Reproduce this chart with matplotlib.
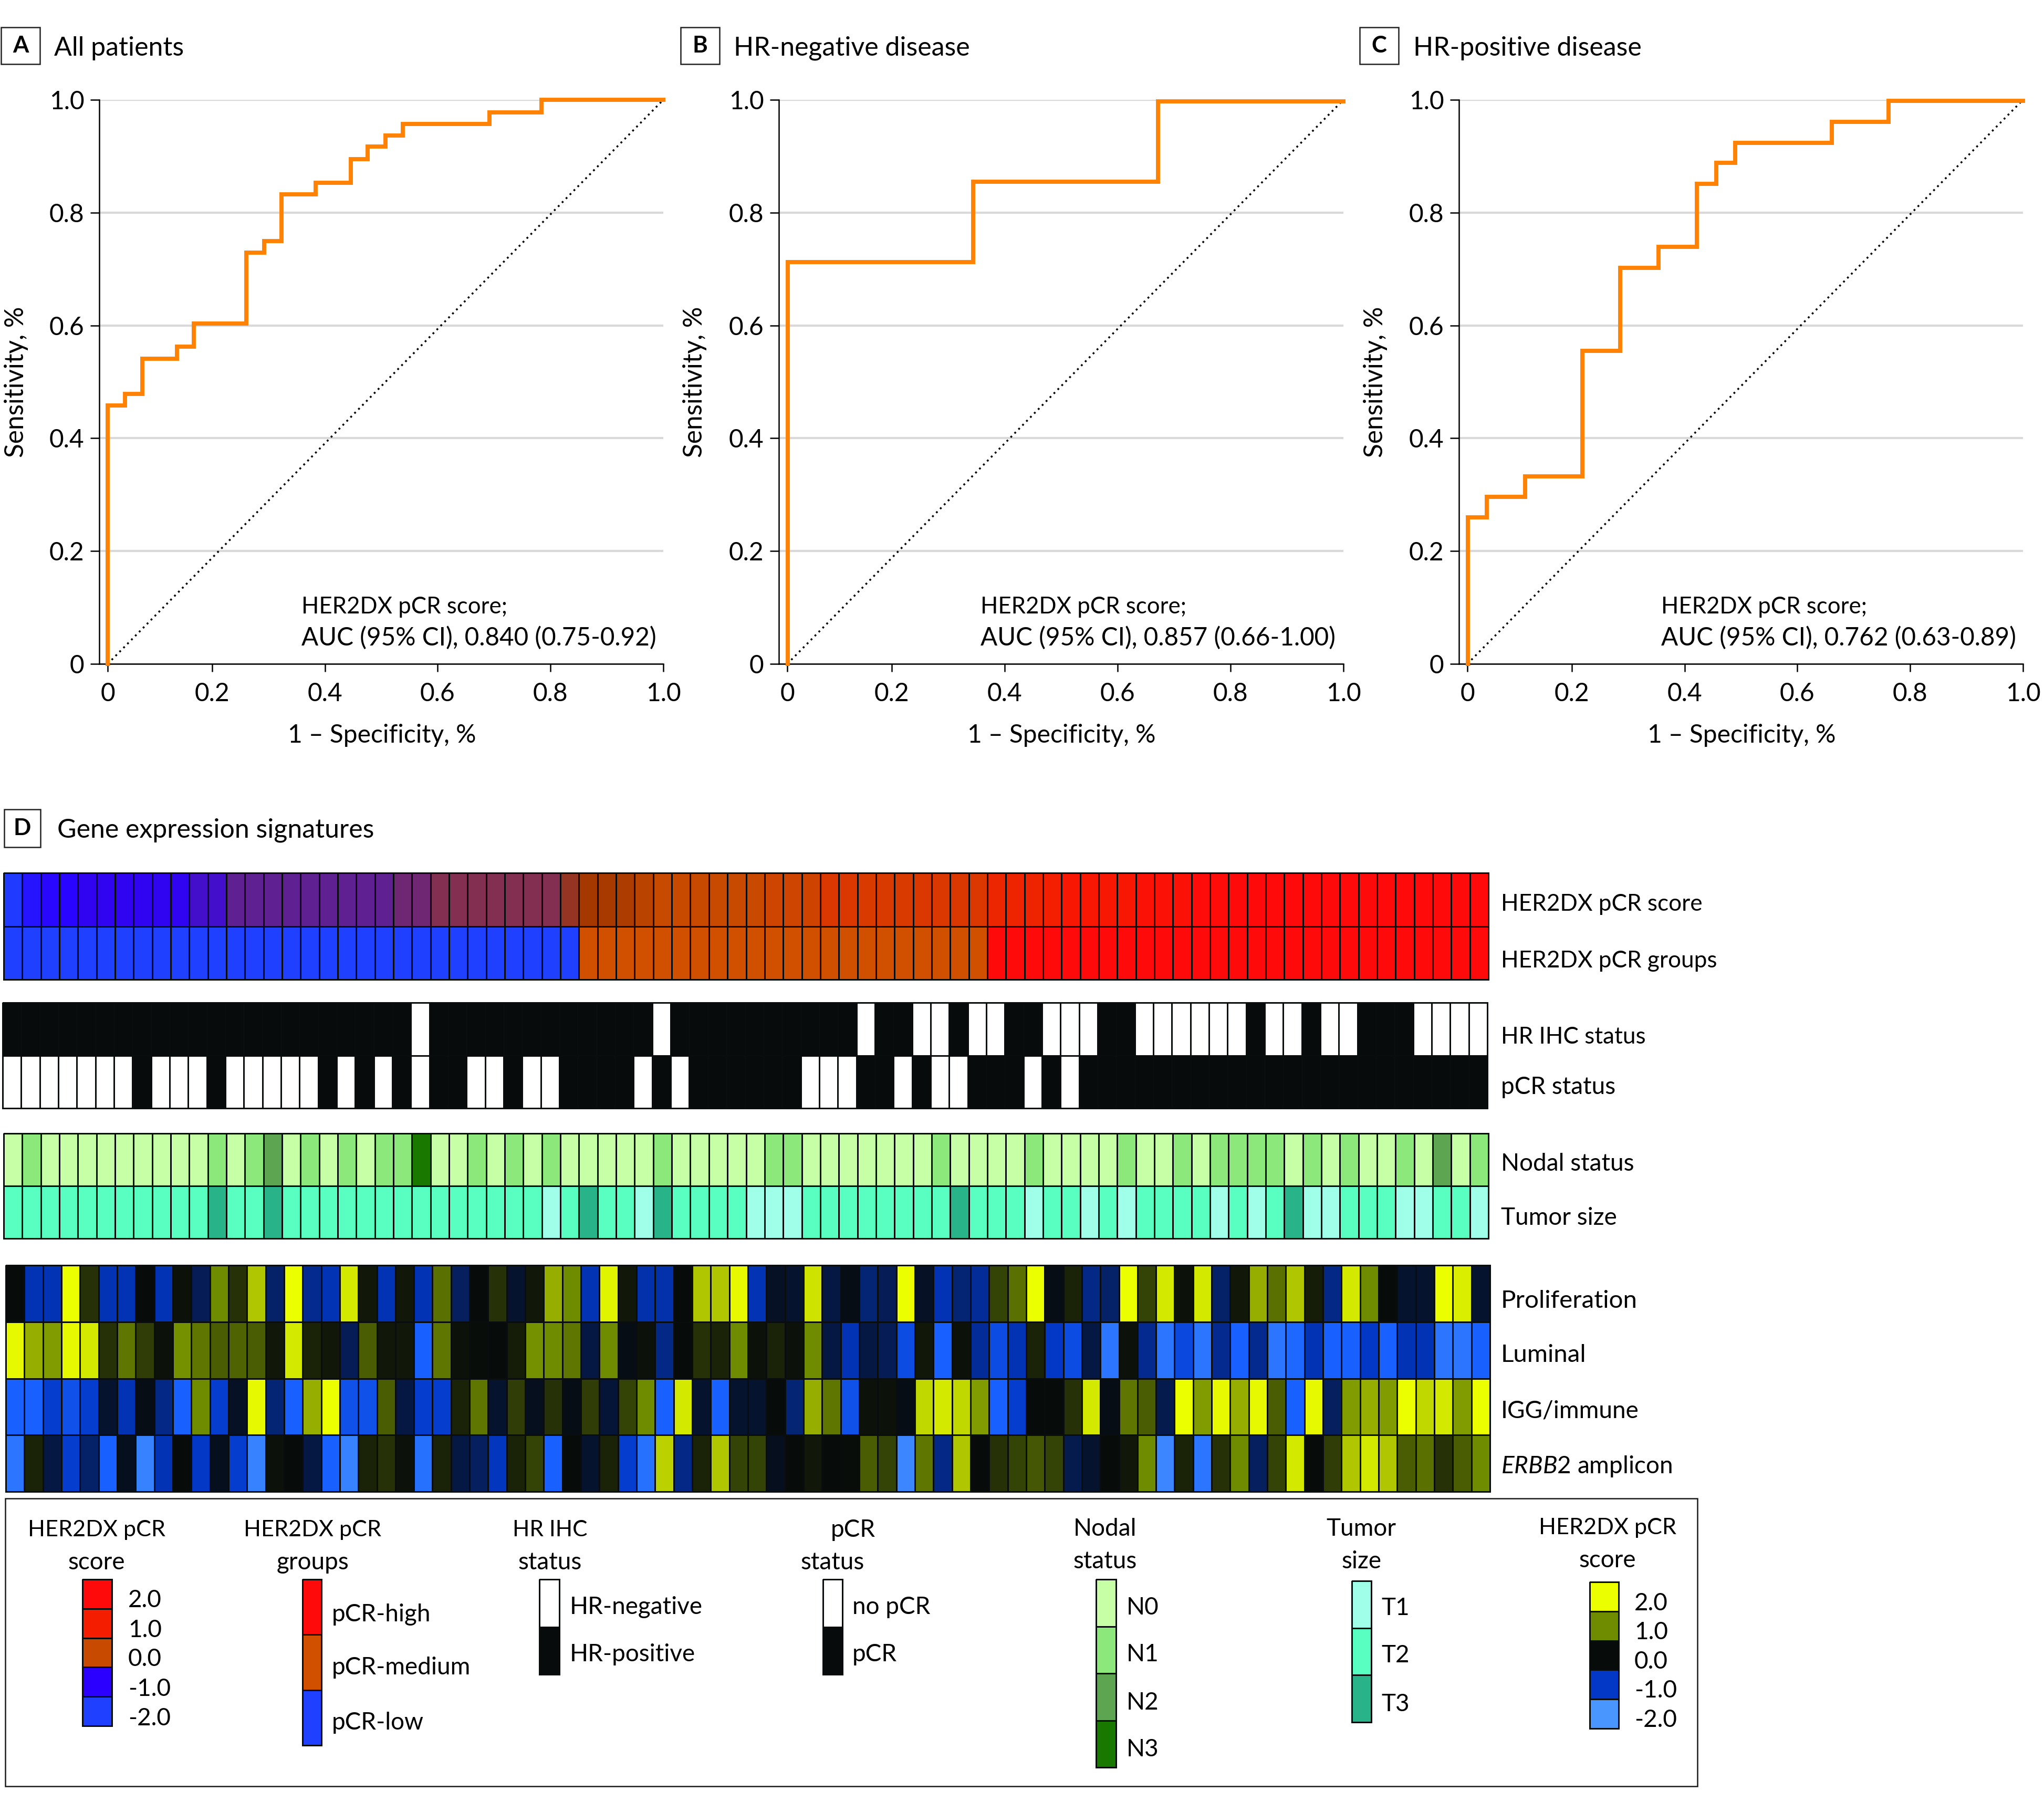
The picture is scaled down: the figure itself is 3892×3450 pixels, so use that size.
#!/usr/bin/env python
import matplotlib
matplotlib.use("AGG")
import matplotlib.pyplot as plt
from matplotlib.colors import LinearSegmentedColormap, ListedColormap
from matplotlib.patches import Rectangle
import numpy as np

W, H = 3892, 3450
FONT = "Lato"
plt.rcParams['font.family'] = [FONT, 'DejaVu Sans']
plt.rcParams['mathtext.fontset'] = 'custom'
plt.rcParams['mathtext.it'] = FONT + ':italic'
plt.rcParams['mathtext.rm'] = FONT

# ROC curves, corner points
roc_a_x = [0.0147, 0.0147, 0.046, 0.046, 0.076, 0.076, 0.138, 0.138, 0.168, 0.168, 0.261, 0.261, 0.292, 0.292, 0.323, 0.323,
           0.384, 0.384, 0.446, 0.446, 0.476, 0.476, 0.507, 0.507, 0.538, 0.538, 0.692, 0.692, 0.784, 0.784, 1.0]
roc_a_y = [0.0, 0.458, 0.458, 0.479, 0.479, 0.541, 0.541, 0.562, 0.562, 0.603, 0.603, 0.729, 0.729, 0.75, 0.75, 0.832,
           0.832, 0.853, 0.853, 0.895, 0.895, 0.917, 0.917, 0.937, 0.937, 0.957, 0.957, 0.978, 0.978, 1.0, 1.0]
roc_b_x = [0.0154, 0.0154, 0.344, 0.344, 0.672, 0.672, 1.0]
roc_b_y = [0.0, 0.712, 0.712, 0.855, 0.855, 0.997, 0.997]
roc_c_x = [0.0154, 0.0154, 0.049, 0.049, 0.117, 0.117, 0.219, 0.219, 0.286, 0.286, 0.354, 0.354, 0.422, 0.422, 0.456, 0.456,
           0.49, 0.49, 0.661, 0.661, 0.762, 0.762, 1.0]
roc_c_y = [0.0, 0.26, 0.26, 0.296, 0.296, 0.332, 0.332, 0.555, 0.555, 0.702, 0.702, 0.739, 0.739, 0.851, 0.851, 0.888,
           0.888, 0.924, 0.924, 0.961, 0.961, 0.998, 0.998]
x_zero = 0.015
x_ticks = [x_zero, 0.2, 0.4, 0.6, 0.8, 1.0]
x_labels = ["0", "0.2", "0.4", "0.6", "0.8", "1.0"]
y_ticks = [0, 0.2, 0.4, 0.6, 0.8, 1.0]
y_labels = ["0", "0.2", "0.4", "0.6", "0.8", "1.0"]
panel_titles = ["All patients", "HR-negative disease", "HR-positive disease"]
auc_texts = ["AUC (95% CI), 0.840 (0.75-0.92)", "AUC (95% CI), 0.857 (0.66-1.00)", "AUC (95% CI), 0.762 (0.63-0.89)"]

# heat map rows, 80 patients
score = [-1.9, -1.3, -1.1, -1.05, -0.95, -0.95, -0.95, -0.95, -0.95, -0.95,
         -0.8, -0.8, -0.6, -0.6, -0.6, -0.6, -0.6, -0.6, -0.6, -0.6,
         -0.6, -0.5, -0.5, -0.36, -0.36, -0.36, -0.36, -0.36, -0.36, -0.36,
         -0.25, -0.15, -0.13, -0.12, -0.05, 0.0, 0.0, 0.0, 0.0, 0.0,
         0.03, 0.1, 0.1, 0.15, 0.4, 0.4, 0.35, 0.35, 0.35, 0.4,
         0.4, 0.4, 0.4, 0.8, 0.85, 0.85, 0.95, 1.3, 1.3, 1.3,
         1.3, 1.6, 1.6, 1.6, 1.9, 1.9, 2.0, 2.0, 2.0, 2.0,
         2.0, 2.0, 2.0, 2.0, 2.0, 2.0, 2.0, 2.0, 2.0, 2.0]
groups = [0, 0, 0, 0, 0, 0, 0, 0, 0, 0,
          0, 0, 0, 0, 0, 0, 0, 0, 0, 0,
          0, 0, 0, 0, 0, 0, 0, 0, 0, 0,
          0, 1, 1, 1, 1, 1, 1, 1, 1, 1,
          1, 1, 1, 1, 1, 1, 1, 1, 1, 1,
          1, 1, 1, 2, 2, 2, 2, 2, 2, 2,
          2, 2, 2, 2, 2, 2, 2, 2, 2, 2,
          2, 2, 2, 2, 2, 2, 2, 2, 2, 2]
hr_ihc = [0, 0, 0, 0, 0, 0, 0, 0, 0, 0,
          0, 0, 0, 0, 0, 0, 0, 0, 0, 0,
          0, 0, 1, 0, 0, 0, 0, 0, 0, 0,
          0, 0, 0, 0, 0, 1, 0, 0, 0, 0,
          0, 0, 0, 0, 0, 0, 1, 0, 0, 1,
          1, 0, 1, 1, 0, 0, 1, 1, 1, 0,
          0, 1, 1, 1, 1, 1, 1, 0, 1, 1,
          0, 1, 1, 0, 0, 0, 1, 1, 1, 1]
pcr = [1, 1, 1, 1, 1, 1, 1, 0, 1, 1,
       1, 0, 1, 1, 1, 1, 1, 0, 1, 0,
       1, 0, 1, 0, 0, 1, 1, 0, 1, 1,
       0, 0, 0, 0, 1, 0, 1, 0, 0, 0,
       0, 0, 0, 1, 1, 1, 0, 0, 1, 0,
       1, 1, 0, 0, 0, 1, 0, 1, 0, 0,
       0, 0, 0, 0, 0, 0, 0, 0, 0, 0,
       0, 0, 0, 0, 0, 0, 0, 0, 0, 0]
nodal = [0, 1, 0, 0, 0, 0, 0, 0, 0, 0,
         0, 1, 0, 1, 2, 0, 1, 0, 1, 0,
         1, 1, 3, 0, 0, 1, 0, 1, 0, 1,
         0, 0, 0, 0, 0, 1, 0, 0, 0, 0,
         0, 1, 1, 0, 0, 0, 0, 0, 0, 0,
         1, 0, 0, 0, 0, 1, 0, 0, 0, 0,
         1, 0, 0, 1, 0, 1, 1, 1, 1, 0,
         1, 0, 1, 0, 0, 1, 0, 2, 0, 1]
tumor = [1, 1, 1, 1, 1, 1, 1, 1, 1, 1,
         1, 2, 1, 1, 2, 1, 1, 1, 1, 1,
         1, 1, 1, 1, 1, 1, 1, 1, 1, 0,
         1, 2, 1, 1, 0, 2, 1, 1, 1, 1,
         0, 0, 0, 1, 1, 1, 1, 1, 1, 1,
         1, 2, 1, 1, 1, 0, 1, 1, 0, 1,
         0, 1, 1, 1, 1, 0, 1, 0, 1, 2,
         0, 0, 1, 1, 1, 0, 0, 1, 1, 0]
proliferation = [0.0, -0.9, -0.9, 2.0, 0.3, -0.9, -0.9, 0.0, -0.9, 0.05,
                 -0.4, 1.0, 0.3, 1.5, -0.5, 2.0, -0.7, -0.9, 1.8, 0.1,
                 -0.9, 0.1, -0.9, 0.8, -0.45, 0.0, 0.3, -0.2, 0.1, 1.3,
                 1.0, -0.9, 1.9, 0.1, -0.85, -0.85, 0.0, 1.5, 1.5, 1.95,
                 -0.9, -0.15, -0.2, 1.75, -0.3, -0.05, -0.55, -0.4, 2.0, -0.15,
                 -0.9, -0.55, -0.75, 0.45, 0.8, 2.0, -0.05, 0.2, -0.65, -0.5,
                 2.0, 0.45, 1.8, 0.05, 1.8, -0.5, 0.1, 1.3, 0.8, 1.5,
                 0.15, -0.65, 1.8, 1.0, 0.0, -0.2, -0.2, 2.0, 1.85, -0.2]
luminal = [1.95, 1.3, 1.15, 1.95, 1.8, 0.3, 0.85, 0.4, 0.05, 1.05,
           0.85, 0.65, 0.7, 0.65, 0.1, 1.8, 0.2, 0.1, -0.4, 0.65,
           0.1, 0.1, -1.5, 0.85, 0.05, 0.02, 0.0, 0.15, 1.05, 1.0,
           0.85, -0.3, 1.0, -0.05, 0.05, -0.65, 0.0, 0.3, 0.2, 1.0,
           0.05, 0.2, 0.05, 1.0, -0.3, -0.9, -0.3, -0.4, -1.25, 0.1,
           -1.5, 0.05, -0.75, -1.25, -0.9, 0.2, -1.0, -1.25, -0.3, -1.7,
           0.05, -0.7, -1.7, -1.2, -1.7, -0.7, -1.5, -0.7, -1.7, -1.55,
           -0.9, -1.5, -1.5, -1.0, -1.5, -0.9, -0.9, -1.7, -1.7, -1.5]
igg_immune = [-1.5, -1.5, -1.05, -1.3, -1.05, -0.2, -0.9, -0.05, -0.65, -1.5,
              1.0, -1.05, -0.15, 1.95, -0.55, -1.5, 1.3, 2.0, -1.3, -1.3,
              0.65, -0.3, -1.05, -1.05, 0.2, 0.85, -0.2, 0.4, -0.1, 0.3,
              -0.05, 0.4, -0.25, 0.45, 1.0, -1.5, 1.8, -0.2, -1.5, -0.2,
              -0.2, 0.0, -0.55, 1.3, 0.85, -1.3, 0.05, 0.05, -0.05, 1.65,
              1.8, 1.65, 1.15, -1.5, -1.05, 0.0, 0.0, 0.3, 1.8, -0.05,
              0.85, 0.65, -0.35, 2.0, 1.15, 1.95, 1.3, 1.95, 0.65, -1.5,
              1.95, -0.45, 1.15, 1.3, 1.15, 2.0, 1.65, 1.8, 1.15, 2.0]
erbb2 = [-1.7, 0.2, -0.3, -1.05, -0.5, -1.5, -0.1, -1.8, -0.9, 0.0,
         -1.0, -0.1, -1.05, -1.8, 0.05, 0.0, -0.3, -1.5, -1.8, 0.2,
         0.3, 0.05, -1.65, 0.2, -0.3, -0.45, -0.95, 0.2, 0.45, -1.5,
         0.0, -0.2, 0.2, -1.05, -1.65, 1.6, -0.65, 0.2, 1.5, 0.45,
         0.45, -0.1, 0.0, 0.1, 0.0, 0.03, 0.65, 0.45, -1.85, 0.85,
         -0.65, 1.5, 0.0, 0.3, 0.45, 0.6, 0.45, -0.35, -0.2, 0.0,
         0.1, 1.0, -1.85, 0.2, -1.7, 0.3, 1.0, -0.45, 0.45, 1.8,
         0.0, 0.4, 1.5, 1.8, 1.5, 0.65, 0.8, 0.3, 0.65, 1.0]
row_names = ["HER2DX pCR score", "HER2DX pCR groups", "HR IHC status", "pCR status", "Nodal status", "Tumor size",
             "Proliferation", "Luminal", "IGG/immune", r"$\mathit{ERBB2}$ amplicon"]

score_levels = [2.0, 1.0, 0.0, -1.0, -2.0]
score_level_labels = ["2.0", "1.0", "0.0", "-1.0", "-2.0"]
group_names = ["pCR-high", "pCR-medium", "pCR-low"]
hr_names = ["HR-negative", "HR-positive"]
pcr_names = ["no pCR", "pCR"]
nodal_names = ["N0", "N1", "N2", "N3"]
tumor_names = ["T1", "T2", "T3"]

# colours
EDGE = "#0a0d0d"
score_cmap = LinearSegmentedColormap.from_list("score", [(0, "#2040ff"), (0.25, "#2a00ff"), (0.35, "#602090"), (0.41, "#833050"),
                                                          (0.4625, "#a43800"), (0.5, "#c84a00"), (0.75, "#f51d00"), (1, "#ff0a0a")])
sig_cmap = LinearSegmentedColormap.from_list("sig", [(0, "#4a96ff"), (0.125, "#1860ff"), (0.25, "#0338c8"), (0.5, "#060a0a"), (0.75, "#6e8a00"), (1, "#ecff00")])
group_colors = ["#2040ff", "#d05000", "#ff0a0a"]
binary_colors = ["#070b0b", "#ffffff"]
nodal_colors = ["#c6ffa6", "#8ce87a", "#5ea552", "#187800"]
tumor_colors = ["#a0ffe8", "#58ffc0", "#28b488"]

fig = plt.figure(figsize=(W / 300, H / 300), dpi=300, facecolor="white")


def box(x0, y0, x1, y1):
    # pixel box (y down) to figure fractions
    return [x0 / W, 1 - y1 / H, (x1 - x0) / W, (y1 - y0) / H]


def put(x, y, s, **kw):
    kw.setdefault("fontsize", 11)
    kw.setdefault("va", "center")
    return fig.text(x / W, 1 - y / H, s, **kw)


def draw_roc(left, right, xs, ys, idx, letter_x, title_x, ylab_x, auc_x):
    ax = fig.add_axes(box(left, 190, right, 1264))
    ax.set_xlim(0, 1)
    ax.set_ylim(0, 1)
    ax.set_axisbelow(True)
    ax.yaxis.grid(True, color="#d9d9d9", lw=1.0)
    ax.plot([x_zero, 1], [0, 1], color="black", lw=0.85, ls=(0, (1, 2)), zorder=2)
    ax.plot(xs, ys, color="#ff8205", lw=1.9, solid_joinstyle="miter", clip_on=False, zorder=3)
    ax.set_xticks(x_ticks)
    ax.set_xticklabels(x_labels)
    ax.set_yticks(y_ticks)
    ax.set_yticklabels(y_labels)
    ax.tick_params(axis="x", length=3.5, width=0.6, pad=4.8, labelsize=11.5)
    ax.tick_params(axis="y", length=4, width=0.6, pad=2.8, labelsize=11.5)
    for side in ["top", "right"]:
        ax.spines[side].set_visible(False)
    for side in ["left", "bottom"]:
        ax.spines[side].set_linewidth(0.6)
    put((left + right) / 2 + 1, 1400, "1 – Specificity, %", ha="center", fontsize=11.5)
    put(ylab_x, 727, "Sensitivity, %", ha="center", rotation=90, fontsize=11.9)
    put(auc_x, 1155, "HER2DX pCR score;", ha="left", fontsize=10.5)
    put(auc_x, 1214, auc_texts[idx], ha="left", fontsize=11.45)
    put(title_x, 92, panel_titles[idx], ha="left", fontsize=12)
    draw_letter(letter_x, 52, letter_x + 74, 122, "ABC"[idx])


def draw_letter(x0, y0, x1, y1, letter):
    fig.add_artist(Rectangle((x0 / W, 1 - y1 / H), (x1 - x0) / W, (y1 - y0) / H, transform=fig.transFigure,
                             fc="white", ec="#222222", lw=0.6))
    put((x0 + x1) / 2, (y0 + y1) / 2, letter, ha="center", fontweight="bold", fontsize=10.5)


draw_roc(189, 1263, roc_a_x, roc_a_y, 0, 2, 103, 31, 574)
draw_roc(1483, 2558, roc_b_x, roc_b_y, 1, 1296, 1397, 1323, 1867)
draw_roc(2778, 3852, roc_c_x, roc_c_y, 2, 2589, 2691, 2619, 3163)

draw_letter(8, 1541, 77, 1613, "D")
put(109, 1581, "Gene expression signatures", ha="left", fontsize=12)


def heat_block(x0, y0, x1, y1, rows, cmap, vmin, vmax, lw=0.7):
    ax = fig.add_axes(box(x0, y0, x1, y1))
    data = np.array(rows, dtype=float)
    ax.pcolormesh(data, cmap=cmap, vmin=vmin, vmax=vmax, edgecolors=EDGE, linewidth=lw, clip_on=False)
    ax.set_ylim(len(rows), 0)
    ax.axis("off")
    return ax


def cat_cmap(colors):
    return ListedColormap(colors)


# two rows with their own colour scales in one axes
def two_scale_block(x0, y0, x1, y1, row1, cmap1, lim1, row2, cmap2, lim2):
    ax = fig.add_axes(box(x0, y0, x1, y1))
    ax.set_xlim(0, len(row1))
    ax.set_ylim(2, 0)
    ax.axis("off")
    ax.pcolormesh(np.arange(len(row1) + 1), [0, 1], np.array([row1]), cmap=cmap1, vmin=lim1[0], vmax=lim1[1],
                  edgecolors=EDGE, linewidth=0.7, clip_on=False)
    ax.pcolormesh(np.arange(len(row2) + 1), [1, 2], np.array([row2]), cmap=cmap2, vmin=lim2[0], vmax=lim2[1],
                  edgecolors=EDGE, linewidth=0.7, clip_on=False)


two_scale_block(7, 1662, 2834, 1865, score, score_cmap, (-2, 2), groups, cat_cmap(group_colors), (-0.5, 2.5))
heat_block(5, 1909, 2832, 2110, [hr_ihc, pcr], cat_cmap(binary_colors), -0.5, 1.5)
two_scale_block(7, 2158, 2834, 2358, nodal, cat_cmap(nodal_colors), (-0.5, 3.5), tumor, cat_cmap(tumor_colors), (-0.5, 2.5))
heat_block(11, 2409, 2837, 2840, [proliferation, luminal, igg_immune, erbb2], sig_cmap, -2, 2)

row_label_y = [1722, 1829, 1974, 2070, 2216, 2319, 2477, 2580, 2686, 2792]
row_label_size = [10.6, 10.6, 10.6, 11, 11, 11, 11.4, 11.4, 11, 11]
for name, y, size in zip(row_names, row_label_y, row_label_size):
    put(2858, y, name, ha="left", fontsize=size)

# legend panel
fig.add_artist(Rectangle((10 / W, 1 - 3401 / H), (3232 - 10) / W, (3401 - 2853) / H, transform=fig.transFigure,
                         fc="none", ec="#1a1a1a", lw=0.6))


def legend_bar(x0, y0, x1, y1, values, cmap, vmin, vmax):
    ax = fig.add_axes(box(x0, y0, x1, y1))
    ax.pcolormesh(np.array(values, dtype=float).reshape(-1, 1), cmap=cmap, vmin=vmin, vmax=vmax,
                  edgecolors=EDGE, linewidth=0.6, clip_on=False)
    ax.set_ylim(len(values), 0)
    ax.axis("off")


def legend_text(title_x, title_y, title, label_x, label_ys, labels, title_x2=None, title_size=11):
    put(title_x, title_y, title[0], ha="center", fontsize=title_size)
    put(title_x if title_x2 is None else title_x2, title_y + 62, title[1], ha="center")
    for y, s in zip(label_ys, labels):
        put(label_x, y, s, ha="left")


legend_bar(157, 3007, 213, 3286, score_levels, score_cmap, -2, 2)
legend_text(184, 2913, ["HER2DX pCR", "score"], 244, [3047, 3104, 3159, 3216, 3272], score_level_labels, title_size=10.35)

legend_bar(576, 3007, 612, 3323, [2, 1, 0], cat_cmap(group_colors), -0.5, 2.5)
legend_text(595, 2913, ["HER2DX pCR", "groups"], 632, [3074, 3175, 3280], group_names, title_size=10.35)

legend_bar(1027, 3007, 1065, 3188, [1, 0], cat_cmap(binary_colors), -0.5, 1.5)
legend_text(1047, 2913, ["HR IHC", "status"], 1085, [3060, 3150], hr_names, title_size=10.2)

legend_bar(1567, 3007, 1604, 3188, [1, 0], cat_cmap(binary_colors), -0.5, 1.5)
legend_text(1624, 2913, ["pCR", "status"], 1623, [3060, 3150], pcr_names, title_x2=1585)

legend_bar(2087, 3007, 2125, 3365, [0, 1, 2, 3], cat_cmap(nodal_colors), -0.5, 3.5)
legend_text(2104, 2911, ["Nodal", "status"], 2145, [3061, 3150, 3242, 3331], nodal_names)

legend_bar(2574, 3010, 2611, 3279, [0, 1, 2], cat_cmap(tumor_colors), -0.5, 2.5)
legend_text(2592, 2911, ["Tumor", "size"], 2630, [3062, 3152, 3245], tumor_names)

legend_bar(3027, 3012, 3082, 3291, score_levels, sig_cmap, -2, 2)
legend_text(3061, 2909, ["HER2DX pCR", "score"], 3112, [3053, 3108, 3164, 3219, 3275], score_level_labels, title_size=10.35)

plt.savefig("out.png", dpi=300)
